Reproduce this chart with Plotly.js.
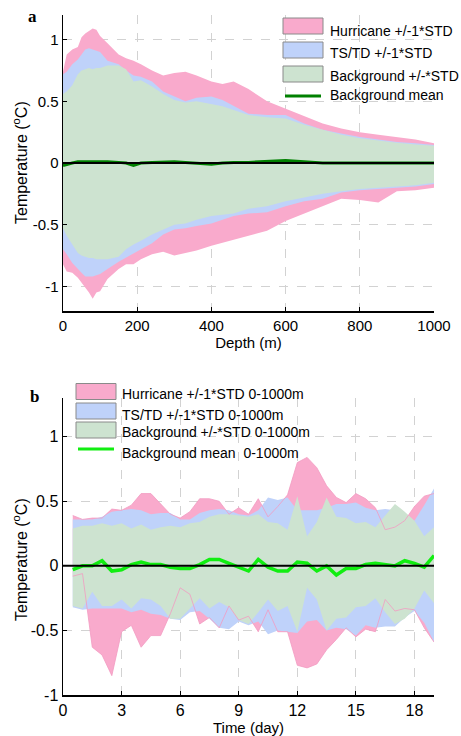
<!DOCTYPE html>
<html>
<head>
<meta charset="utf-8">
<script src="https://cdn.plot.ly/plotly-3.0.1.min.js"></script>
<style>html,body{margin:0;padding:0;background:#fff;}#chart{width:461px;height:736px;}</style>
</head>
<body>
<div id="chart"></div>
<script>
// ---------------- Panel a: temperature anomaly vs depth ----------------
const depthA = [0,10,25,40,50,60,70,80,90,100,120,150,170,190,210,240,270,300,330,360,400,430,460,500,550,600,650,700,750,800,850,900,950,1000];
const hurUpperA = [0.74,0.88,0.92,0.94,1.02,1.05,1.07,1.09,1.08,1.03,0.97,0.88,0.85,0.83,0.80,0.75,0.71,0.73,0.74,0.71,0.66,0.64,0.66,0.60,0.50,0.44,0.38,0.32,0.28,0.25,0.23,0.21,0.19,0.16];
const hurLowerA = [-0.82,-0.88,-0.89,-0.93,-0.96,-1.01,-1.05,-1.10,-1.05,-1.04,-0.94,-0.86,-0.82,-0.82,-0.78,-0.74,-0.72,-0.75,-0.73,-0.71,-0.67,-0.65,-0.62,-0.59,-0.55,-0.47,-0.41,-0.35,-0.29,-0.30,-0.32,-0.23,-0.22,-0.20];
const tsUpperA = [0.72,0.74,0.80,0.84,0.88,0.92,0.93,0.92,0.91,0.90,0.83,0.80,0.75,0.71,0.70,0.66,0.58,0.54,0.50,0.53,0.54,0.51,0.46,0.40,0.39,0.39,0.32,0.27,0.24,0.21,0.19,0.17,0.16,0.145];
const tsLowerA = [-0.70,-0.74,-0.81,-0.86,-0.89,-0.92,-0.92,-0.92,-0.91,-0.90,-0.86,-0.80,-0.77,-0.73,-0.70,-0.65,-0.58,-0.54,-0.53,-0.51,-0.49,-0.46,-0.43,-0.41,-0.40,-0.35,-0.31,-0.29,-0.24,-0.22,-0.21,-0.20,-0.19,-0.17];
const bgUpperA = [0.56,0.58,0.63,0.72,0.75,0.76,0.77,0.76,0.77,0.77,0.79,0.79,0.76,0.66,0.67,0.62,0.56,0.51,0.49,0.50,0.48,0.46,0.43,0.39,0.37,0.36,0.31,0.27,0.23,0.20,0.18,0.165,0.15,0.14];
const bgLowerA = [-0.53,-0.59,-0.66,-0.73,-0.75,-0.76,-0.77,-0.77,-0.78,-0.78,-0.78,-0.76,-0.70,-0.66,-0.63,-0.58,-0.54,-0.50,-0.49,-0.46,-0.43,-0.42,-0.41,-0.37,-0.35,-0.31,-0.28,-0.25,-0.23,-0.21,-0.20,-0.19,-0.18,-0.16];
const bgMeanA = [-0.02,-0.01,0.0,0.01,0.01,0.01,0.01,0.015,0.01,0.015,0.01,0.005,0.0,-0.02,0.0,0.005,0.01,0.01,0.005,0.0,-0.01,0.0,0.005,0.005,0.01,0.02,0.01,0.0,0.0,0.0,0.0,0.0,0.0,0.0];
const xTicksA = [0,200,400,600,800,1000];
const xRangeA = [0,1000];
const yRangeA = [-1.2,1.2];

// ---------------- Panel b: temperature anomaly vs time ----------------
const dayB = [0.5,1,1.5,2,2.5,3,3.5,4,4.5,5,5.5,6,6.5,7,7.5,8,8.5,9,9.5,10,10.5,11,11.5,12,12.5,13,13.5,14,14.5,15,15.5,16,16.5,17,17.5,18,18.5,19];
const hurUpperB = [0.39,0.36,0.37,0.37,0.44,0.43,0.47,0.56,0.56,0.48,0.40,0.37,0.42,0.52,0.52,0.50,0.40,0.45,0.40,0.52,0.38,0.46,0.55,0.80,0.84,0.76,0.62,0.53,0.49,0.56,0.52,0.45,0.28,0.30,0.35,0.46,0.54,0.56];
const hurLowerB = [-0.08,-0.06,-0.63,-0.69,-0.85,-0.51,-0.46,-0.63,-0.54,-0.54,-0.37,-0.17,-0.22,-0.45,-0.40,-0.48,-0.31,-0.42,-0.39,-0.51,-0.34,-0.51,-0.51,-0.77,-0.79,-0.76,-0.65,-0.57,-0.48,-0.55,-0.49,-0.51,-0.26,-0.35,-0.33,-0.34,-0.48,-0.59];
const tsUpperB = [0.36,0.36,0.36,0.38,0.42,0.43,0.44,0.43,0.40,0.41,0.41,0.36,0.36,0.41,0.43,0.44,0.43,0.40,0.39,0.43,0.53,0.51,0.53,0.43,0.43,0.43,0.45,0.48,0.48,0.49,0.45,0.43,0.44,0.43,0.40,0.35,0.47,0.60];
const tsLowerB = [-0.32,-0.34,-0.33,-0.33,-0.33,-0.33,-0.36,-0.34,-0.37,-0.38,-0.41,-0.42,-0.36,-0.35,-0.41,-0.48,-0.49,-0.43,-0.46,-0.43,-0.53,-0.50,-0.51,-0.52,-0.43,-0.42,-0.50,-0.48,-0.49,-0.54,-0.46,-0.48,-0.47,-0.47,-0.40,-0.35,-0.44,-0.59];
const bgUpperB = [0.29,0.31,0.31,0.33,0.31,0.33,0.29,0.32,0.28,0.30,0.31,0.30,0.33,0.34,0.38,0.40,0.40,0.39,0.38,0.40,0.34,0.33,0.28,0.54,0.23,0.34,0.53,0.38,0.37,0.33,0.34,0.30,0.39,0.48,0.42,0.35,0.23,0.30];
const bgLowerB = [-0.31,-0.33,-0.20,-0.31,-0.31,-0.26,-0.33,-0.25,-0.26,-0.31,-0.41,-0.41,-0.33,-0.25,-0.33,-0.28,-0.32,-0.42,-0.45,-0.36,-0.26,-0.35,-0.31,-0.51,-0.17,-0.26,-0.50,-0.41,-0.40,-0.32,-0.31,-0.25,-0.36,-0.45,-0.41,-0.33,-0.19,-0.29];
const bgMeanB = [-0.03,0.0,0.0,0.04,-0.04,-0.03,0.01,0.03,0.01,0.01,-0.01,-0.02,-0.02,0.01,0.05,0.05,0.02,-0.01,-0.04,0.05,-0.01,-0.04,-0.04,0.03,0.02,-0.04,0.0,-0.07,-0.02,-0.02,0.01,0.02,0.01,0.0,0.04,0.02,-0.01,0.08];
const xTicksB = [0,3,6,9,12,15,18];
const xRangeB = [0,19];
const yRangeB = [-1,1.3];

const yTicks = [-1,-0.5,0,0.5,1];
const yTickText = ['-1','-0.5','0','0.5','1'];

const legendA = ['Hurricane +/-1*STD','TS/TD +/-1*STD','Background +/-*STD','Background mean'];
const legendB = ['Hurricane +/-1*STD 0-1000m','TS/TD +/-1*STD 0-1000m','Background +/-*STD 0-1000m','Background mean  0-1000m'];
const yTitle = 'Temperature (<sup>o</sup>C)';

// ---------------- styles ----------------
const PINK = '#f9aacc', PINK_LINE = '#f39ac1', BLUE = '#bfd2fa', GREEN = '#cde3d0';
const MEAN_A = '#008000', MEAN_B = '#11ee11';
const FONT = 'Liberation Sans, Arial, Helvetica, sans-serif';

function band(x, up, lo, color, xa, ya) {
  return {type:'scatter', mode:'lines', x: x.concat(x.slice().reverse()),
    y: up.concat(lo.slice().reverse()), fill:'toself', fillcolor: color,
    line:{width:0, color: color}, hoverinfo:'skip', showlegend:false, xaxis: xa, yaxis: ya};
}
function line(x, y, color, w, xa, ya) {
  return {type:'scatter', mode:'lines', x:x, y:y, line:{color:color, width:w},
    hoverinfo:'skip', showlegend:false, xaxis:xa, yaxis:ya};
}

const traces = [
  band(depthA, hurUpperA, hurLowerA, PINK, 'x', 'y'),
  band(depthA, tsUpperA, tsLowerA, BLUE, 'x', 'y'),
  band(depthA, bgUpperA, bgLowerA, GREEN, 'x', 'y'),
  line(depthA, bgMeanA, MEAN_A, 3, 'x', 'y'),
  line(xRangeA, [0,0], '#000', 2, 'x', 'y'),

  band(dayB, hurUpperB, hurLowerB, PINK, 'x2', 'y2'),
  band(dayB, tsUpperB, tsLowerB, BLUE, 'x2', 'y2'),
  band(dayB, bgUpperB, bgLowerB, GREEN, 'x2', 'y2'),
  line(dayB, hurUpperB, PINK_LINE, 0.8, 'x2', 'y2'),
  line(dayB, hurLowerB, PINK_LINE, 0.8, 'x2', 'y2'),
  line(dayB, bgMeanB, MEAN_B, 3.5, 'x2', 'y2'),
  line(xRangeB, [0,0], '#000', 2, 'x2', 'y2')
];

// pixel -> paper helpers (plot area: x 63..434, y 15..695)
const L = 63, R = 27, T = 15, B = 41, W = 461, H = 736;
const pw = W - L - R, ph = H - T - B;
const px = v => (v - L) / pw;
const py = v => (H - B - v) / ph;

const axisBase = {
  showline:true, linecolor:'#000', linewidth:1.5, mirror:false,
  ticks:'inside', ticklen:4, tickcolor:'#000', tickwidth:1,
  showgrid:true, gridcolor:'#d2d2d2', griddash:'dash', gridwidth:1,
  zeroline:false, tickfont:{family:FONT, size:15, color:'#000'}
};

const shapes = [], annotations = [];
function addLegend(x0, boxes, lineY, textX, textYs, labels, meanColor) {
  const fills = [PINK, BLUE, GREEN];
  boxes.forEach((b, i) => {
    shapes.push({type:'rect', xref:'paper', yref:'paper', x0:px(x0), x1:px(x0+40),
      y0:py(b[0]), y1:py(b[1]), fillcolor:fills[i], line:{color:'#8a8a8a', width:1}, layer:'above'});
  });
  shapes.push({type:'line', xref:'paper', yref:'paper', x0:px(x0+2), x1:px(x0+38),
    y0:py(lineY), y1:py(lineY), line:{color:meanColor, width:3}, layer:'above'});
  labels.forEach((t, i) => {
    annotations.push({text:t, xref:'paper', yref:'paper', x:px(textX), y:py(textYs[i]),
      xanchor:'left', yanchor:'middle', showarrow:false, font:{family:FONT, size:14, color:'#000'}});
  });
}
addLegend(283, [[18,34],[42,58],[66,82]], 96, 328, [31,52.5,76,95], legendA, MEAN_A);
addLegend(76, [[383.5,399.5],[403,419],[422,438]], 449, 120, [394,415,432,453], legendB, MEAN_B);

annotations.push({text:'<b>a</b>', xref:'paper', yref:'paper', x:px(32), y:py(17), xanchor:'center', yanchor:'middle',
  showarrow:false, font:{family:'Liberation Serif, Times New Roman, serif', size:17, color:'#000'}});
annotations.push({text:'<b>b</b>', xref:'paper', yref:'paper', x:px(34), y:py(396), xanchor:'center', yanchor:'middle',
  showarrow:false, font:{family:'Liberation Serif, Times New Roman, serif', size:17, color:'#000'}});
// y-axis titles
annotations.push({text:yTitle, xref:'paper', yref:'paper', x:px(20), y:py(163), xanchor:'center', yanchor:'middle',
  textangle:-90, showarrow:false, font:{family:FONT, size:16, color:'#000'}});
annotations.push({text:yTitle, xref:'paper', yref:'paper', x:px(20), y:py(560), xanchor:'center', yanchor:'middle',
  textangle:-90, showarrow:false, font:{family:FONT, size:16, color:'#000'}});

const layout = {
  width:W, height:H, margin:{l:L, r:R, t:T, b:B},
  paper_bgcolor:'#fff', plot_bgcolor:'rgba(0,0,0,0)', showlegend:false,
  font:{family:FONT, color:'#000'},
  xaxis: Object.assign({}, axisBase, {anchor:'y', domain:[0,1], range:xRangeA, tickvals:xTicksA,
    title:{text:'Depth (m)', font:{family:FONT, size:15, color:'#000'}, standoff:4}}),
  yaxis: Object.assign({}, axisBase, {anchor:'x', domain:[py(311), 1], range:yRangeA, tickvals:yTicks, ticktext:yTickText}),
  xaxis2: Object.assign({}, axisBase, {anchor:'y2', domain:[0,1], range:xRangeB, tickvals:xTicksB,
    tickfont:{family:FONT, size:16, color:'#000'},
    title:{text:'Time (day)', font:{family:FONT, size:15, color:'#000'}, standoff:4}}),
  yaxis2: Object.assign({}, axisBase, {anchor:'x2', domain:[0, py(398)], range:yRangeB, tickvals:yTicks, ticktext:yTickText,
    tickfont:{family:FONT, size:16, color:'#000'}}),
  shapes:shapes, annotations:annotations
};

Plotly.newPlot('chart', traces, layout, {staticPlot:true, displayModeBar:false});
</script>
</body>
</html>
